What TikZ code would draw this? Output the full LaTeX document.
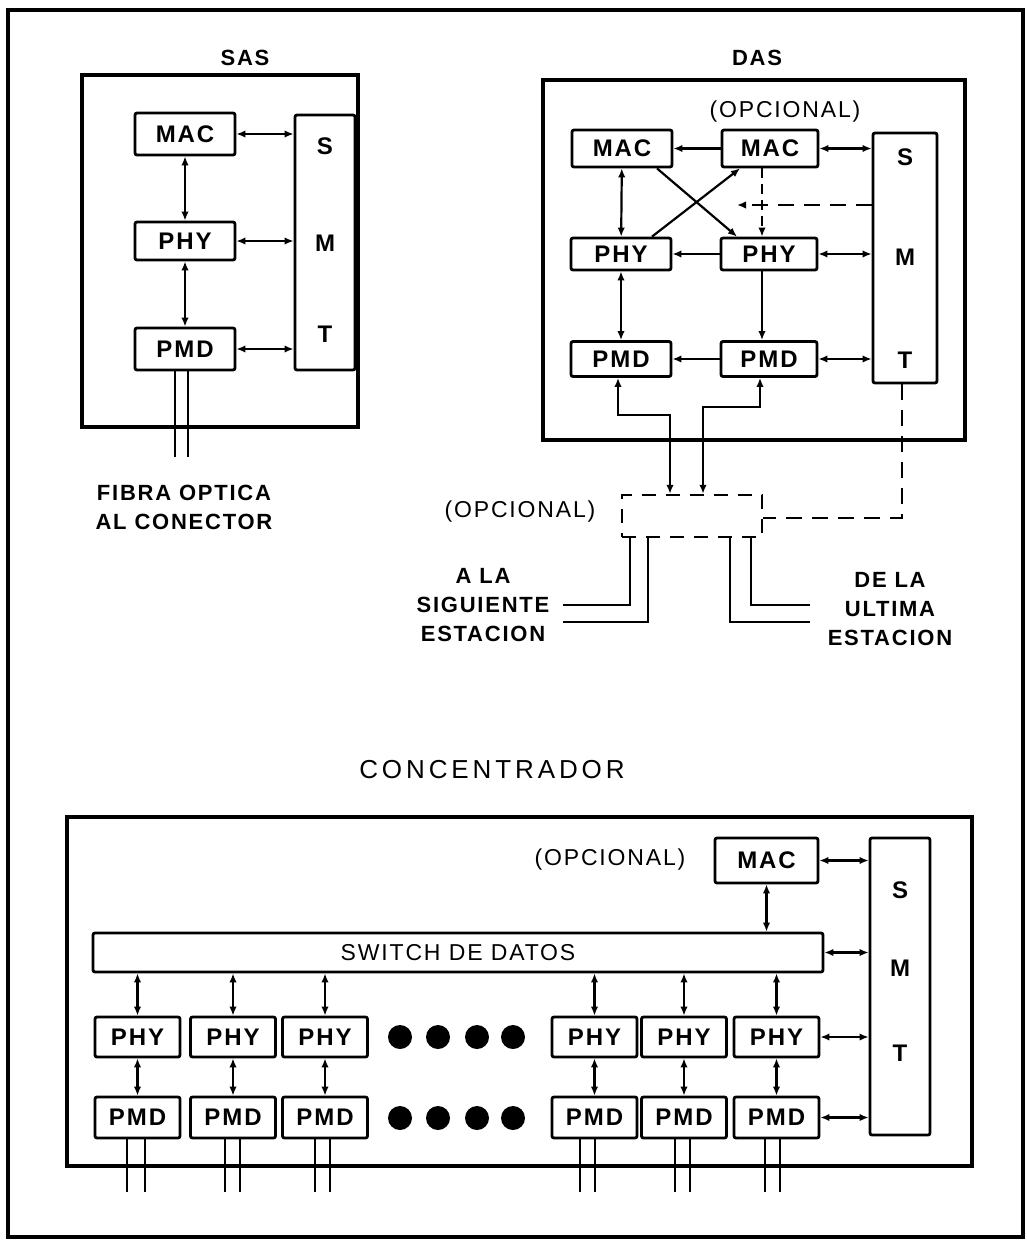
\documentclass[tikz,border=0pt]{standalone}
\usepackage{fontspec}
\setmainfont{Liberation Sans}
\newfontfamily\lsp{Liberation Sans}[LetterSpace=8]
\newfontfamily\lspw{Liberation Sans}[LetterSpace=15]
\usetikzlibrary{arrows.meta}
\newcommand\mybox{\lsp\bfseries\fontsize{24}{28}\selectfont}
\newcommand\mylab{\lsp\bfseries\fontsize{22}{29}\selectfont}
\newcommand\myreg{\lsp\fontsize{23}{28}\selectfont}
\newcommand\mywide{\lspw\fontsize{26}{30}\selectfont}
\begin{document}
\begin{tikzpicture}[x=1pt,y=-1pt,
  >={Latex[length=9pt,width=7.5pt]},
  frame/.style={draw,line width=3.2pt,inner sep=0pt},
  blk/.style={draw,line width=2.8pt,rounded corners=2pt,inner sep=0pt,fill=white,font=\mybox},
  smtl/.style={inner sep=0pt,font=\mybox},
  con/.style={line width=2.2pt},
  fib/.style={line width=2.2pt},
  dsh/.style={line width=2.4pt,dash pattern=on 16pt off 10pt},
  ttl/.style={inner sep=0pt,font=\mylab},
  lab/.style={inner sep=0pt,font=\mylab,align=center},
  reg/.style={inner sep=0pt,font=\myreg},
  dot/.style={circle,fill,minimum size=24pt,inner sep=0pt}]
\fill[white] (0,0) rectangle (1027,1243);
\useasboundingbox (0,0) rectangle (1027,1243);
\node[draw,line width=3.6pt,minimum width=1015pt,minimum height=1227pt,inner sep=0pt] (outer) at (515.5,623.5) {};

% ---------------- SAS ----------------
\node[frame,minimum width=276pt,minimum height=352pt] (sas) at (220,251) {};
\node[ttl] (sast) at (245,58) {SAS};
\node[blk,minimum width=100pt,minimum height=42pt] (smac) at (185,134) {MAC};
\node[blk,minimum width=100pt,minimum height=38pt] (sphy) at (185,241) {PHY};
\node[blk,minimum width=100pt,minimum height=42pt] (spmd) at (185,349) {PMD};
\node[blk,minimum width=60pt,minimum height=255pt] (ssmt) at (325,242.5) {};
\node[smtl] (ss1) at (325,146) {S};
\node[smtl] (ss2) at (325,243) {M};
\node[smtl] (ss3) at (325,334) {T};
\draw[con,<->] (smac.east) -- (smac.east -| ssmt.west);
\draw[con,<->] (sphy.east) -- (sphy.east -| ssmt.west);
\draw[con,<->] (spmd.east) -- (spmd.east -| ssmt.west);
\draw[con,<->] (smac) -- (sphy);
\draw[con,<->] (sphy) -- (spmd);
\coordinate (sf1) at (175,457);
\coordinate (sf2) at (188,457);
\draw[fib] (sf1 |- spmd.south) -- (sf1);
\draw[fib] (sf2 |- spmd.south) -- (sf2);
\node[lab] (sfib) at (184,507) {FIBRA OPTICA\\AL CONECTOR};

% ---------------- DAS ----------------
\node[frame,minimum width=422pt,minimum height=360pt] (das) at (754,260) {};
\node[ttl] (dast) at (757,58) {DAS};
\node[reg] (dopc) at (785,112) {(OPCIONAL)};
\node[blk,minimum width=100pt,minimum height=37pt] (dmac1) at (622,148.5) {MAC};
\node[blk,minimum width=96pt,minimum height=37pt] (dmac2) at (770,148.5) {MAC};
\node[blk,minimum width=100pt,minimum height=32pt] (dphy1) at (621,254) {PHY};
\node[blk,minimum width=96pt,minimum height=32pt] (dphy2) at (769,254) {PHY};
\node[blk,minimum width=100pt,minimum height=35pt] (dpmd1) at (621,359) {PMD};
\node[blk,minimum width=96pt,minimum height=35pt] (dpmd2) at (769,359) {PMD};
\node[blk,minimum width=64pt,minimum height=250pt] (dsmt) at (905,258) {};
\node[smtl] (ds1) at (905,157) {S};
\node[smtl] (ds2) at (905,257) {M};
\node[smtl] (ds3) at (905,360) {T};
\draw[con,->] (dmac2.west) -- (dmac1.east);
\draw[con,<->] (dmac2.east) -- (dmac2.east -| dsmt.west);
\draw[con,<->] (dmac1) -- (dphy1);
\draw[con,dash pattern=on 10pt off 6pt,->] ([xshift=-8pt]dmac2.south) -- ([xshift=-7pt]dphy2.north);
\draw[con,->] ([xshift=35pt]dmac1.south) -- ([xshift=-32pt]dphy2.north);
\draw[con,->] ([xshift=31pt]dphy1.north) -- ([xshift=-30pt]dmac2.south);
\coordinate (dd) at (737,205);
\draw[dsh,->] (dd -| dsmt.west) -- (dd);
\draw[con,->] (dphy2.west) -- (dphy1.east);
\draw[con,<->] (dphy2.east) -- (dphy2.east -| dsmt.west);
\draw[con,<->] (dphy1) -- (dpmd1);
\draw[con,->] ([xshift=-7pt]dphy2.south) -- ([xshift=-7pt]dpmd2.north);
\draw[con,->] (dpmd2.west) -- (dpmd1.east);
\draw[con,<->] (dpmd2.east) -- (dpmd2.east -| dsmt.west);

% optional box
\node[draw,line width=2.4pt,dash pattern=on 14pt off 10pt,minimum width=140pt,minimum height=42pt,inner sep=0pt] (dopt) at (692,516) {};
\node[reg] (dopt2) at (520,512) {(OPCIONAL)};
\coordinate (p1) at (618,415);
\coordinate (p1b) at (670,415);
\draw[con,<->] (p1 |- dpmd1.south) -- (p1) -- (p1b) -- (p1b |- dopt.north);
\coordinate (p2) at (760,407);
\coordinate (p2b) at (703,407);
\draw[con,<->] (p2 |- dpmd2.south) -- (p2) -- (p2b) -- (p2b |- dopt.north);
\coordinate (q) at (902,518);
\draw[dsh] (q |- dsmt.south) -- (q) -- (q -| dopt.east);

\coordinate (a1) at (630,605); \coordinate (a1e) at (563,605);
\coordinate (a2) at (648,622); \coordinate (a2e) at (563,622);
\coordinate (b1) at (751,605); \coordinate (b1e) at (810,605);
\coordinate (b2) at (730,622); \coordinate (b2e) at (810,622);
\draw[fib] (a1 |- dopt.south) -- (a1) -- (a1e);
\draw[fib] (a2 |- dopt.south) -- (a2) -- (a2e);
\draw[fib] (b1 |- dopt.south) -- (b1) -- (b1e);
\draw[fib] (b2 |- dopt.south) -- (b2) -- (b2e);
\node[lab] (asig) at (483,605) {A LA\\SIGUIENTE\\ESTACION};
\node[lab] (dult) at (890,609) {DE LA\\ULTIMA\\ESTACION};

% ---------------- CONCENTRADOR ----------------
\node[inner sep=0pt,font=\mywide] (ctit) at (492,770) {CONCENTRADOR};
\node[frame,minimum width=905pt,minimum height=349pt] (conc) at (519.5,991.5) {};
\node[blk,minimum width=103pt,minimum height=45pt] (cmac) at (766.5,860.5) {MAC};
\node[reg] (copc) at (610,860) {(OPCIONAL)};
\node[blk,minimum width=60pt,minimum height=297pt] (csmt) at (900,986.5) {};
\node[smtl] (cs1) at (900,890) {S};
\node[smtl] (cs2) at (900,968) {M};
\node[smtl] (cs3) at (900,1053) {T};
\node[blk,font=\myreg,minimum width=730pt,minimum height=39pt] (sw) at (458,952.5) {SWITCH DE DATOS};
\foreach \i/\x in {1/137.5,2/233,3/325,4/594.5,5/684,6/776.5} {
  \node[blk,minimum width=85pt,minimum height=40pt] (cphy\i) at (\x,1037) {PHY};
  \node[blk,minimum width=85pt,minimum height=41pt] (cpmd\i) at (\x,1117.5) {PMD};
  \draw[con,<->] (cphy\i.north |- sw.south) -- (cphy\i.north);
  \draw[con,<->] (cphy\i) -- (cpmd\i);
}
\foreach \i/\x in {1/400,2/438,3/477,4/513} {
  \node[dot] (dA\i) at (\x,1037) {};
  \node[dot] (dB\i) at (\x,1118) {};
}
\foreach \i/\a/\b in {1/127/145,2/225/240,3/315/330,4/580/595,5/675/690,6/765/780} {
  \coordinate (cfa\i) at (\a,1192);
  \coordinate (cfb\i) at (\b,1192);
  \draw[fib] (cfa\i |- cpmd\i.south) -- (cfa\i);
  \draw[fib] (cfb\i |- cpmd\i.south) -- (cfb\i);
}
\draw[con,<->] (cmac.east) -- (cmac.east -| csmt.west);
\draw[con,<->] (cmac.south) -- (cmac.south |- sw.north);
\draw[con,<->] (sw.east) -- (sw.east -| csmt.west);
\draw[con,<->] (cphy6.east) -- (cphy6.east -| csmt.west);
\draw[con,<->] (cpmd6.east) -- (cpmd6.east -| csmt.west);
\end{tikzpicture}
\end{document}
